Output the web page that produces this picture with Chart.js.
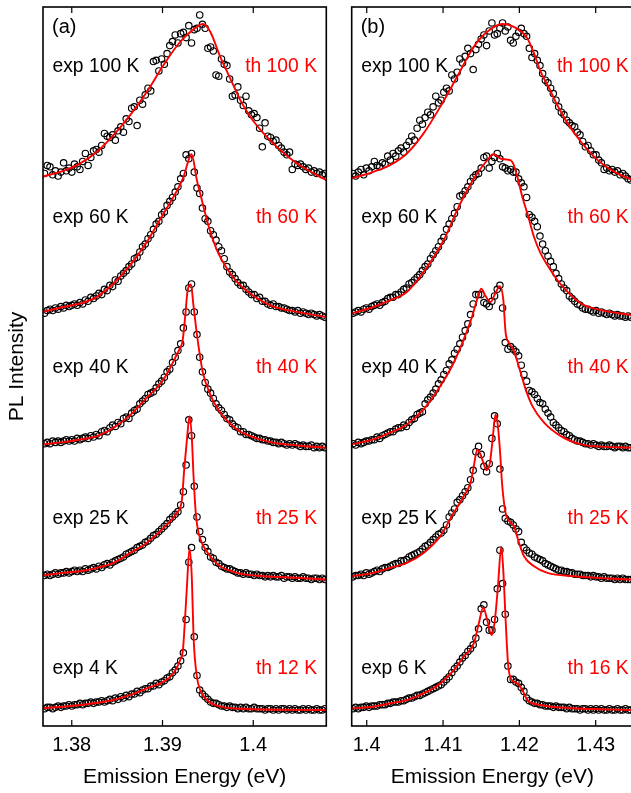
<!DOCTYPE html>
<html>
<head>
<meta charset="utf-8">
<script src="https://cdn.jsdelivr.net/npm/chart.js@4.4.1/dist/chart.umd.min.js"></script>
<style>
  html, body { margin: 0; padding: 0; background: #fff; overflow: hidden; }
  #wrap { position: relative; width: 631px; height: 793px; overflow: hidden; }
  canvas { position: absolute; top: 0; }
  #chartA { left: 0; }
  #chartB { left: 340px; }
</style>
</head>
<body>
<div id="wrap">
  <canvas id="chartA" width="335" height="793"></canvas>
  <canvas id="chartB" width="300" height="793"></canvas>
</div>
<script>
// energy grids of the measured spectra (eV)
const energyA = [
  1.3770,1.3773,1.3776,1.3779,1.3782,1.3785,1.3788,1.3791,1.3794,1.3797,
  1.3800,1.3803,1.3806,1.3809,1.3812,1.3815,1.3818,1.3821,1.3824,1.3827,
  1.3830,1.3833,1.3836,1.3839,1.3842,1.3845,1.3848,1.3851,1.3854,1.3857,
  1.3860,1.3863,1.3866,1.3869,1.3872,1.3875,1.3878,1.3881,1.3884,1.3887,
  1.3890,1.3893,1.3896,1.3899,1.3902,1.3905,1.3908,1.3911,1.3914,1.3917,
  1.3920,1.3923,1.3926,1.3929,1.3932,1.3935,1.3938,1.3941,1.3944,1.3947,
  1.3950,1.3953,1.3956,1.3959,1.3962,1.3965,1.3968,1.3971,1.3974,1.3977,
  1.3980,1.3983,1.3986,1.3989,1.3992,1.3995,1.3998,1.4001,1.4004,1.4007,
  1.4010,1.4013,1.4016,1.4019,1.4022,1.4025,1.4028,1.4031,1.4034,1.4037,
  1.4040,1.4043,1.4046,1.4049,1.4052,1.4055,1.4058,1.4061,1.4064,1.4067,
  1.4070,1.4073,1.4076,1.4079
];
const energyB = [
  1.39820,1.39855,1.39890,1.39925,1.39960,1.39995,1.40030,1.40065,1.40100,1.40135,
  1.40170,1.40205,1.40240,1.40275,1.40310,1.40345,1.40380,1.40415,1.40450,1.40485,
  1.40520,1.40555,1.40590,1.40625,1.40660,1.40695,1.40730,1.40765,1.40800,1.40835,
  1.40870,1.40905,1.40940,1.40975,1.41010,1.41045,1.41080,1.41115,1.41150,1.41185,
  1.41220,1.41255,1.41290,1.41325,1.41360,1.41395,1.41430,1.41465,1.41500,1.41535,
  1.41570,1.41605,1.41640,1.41675,1.41710,1.41745,1.41780,1.41815,1.41850,1.41885,
  1.41920,1.41955,1.41990,1.42025,1.42060,1.42095,1.42130,1.42165,1.42200,1.42235,
  1.42270,1.42305,1.42340,1.42375,1.42410,1.42445,1.42480,1.42515,1.42550,1.42585,
  1.42620,1.42655,1.42690,1.42725,1.42760,1.42795,1.42830,1.42865,1.42900,1.42935,
  1.42970,1.43005,1.43040,1.43075,1.43110,1.43145,1.43180,1.43215,1.43250,1.43285,
  1.43320,1.43355,1.43390,1.43425,1.43460
];

// vertical offset of each stacked spectrum (top to bottom)
const offsets = [4.10, 3.07, 2.09, 1.10, 0.12];

const expLabelsA = ['exp 100 K', 'exp 60 K', 'exp 40 K', 'exp 25 K', 'exp 4 K'];
const thLabelsA = ['th 100 K', 'th 60 K', 'th 40 K', 'th 25 K', 'th 12 K'];
const expLabelsB = ['exp 100 K', 'exp 60 K', 'exp 40 K', 'exp 25 K', 'exp 6 K'];
const thLabelsB = ['th 100 K', 'th 60 K', 'th 40 K', 'th 25 K', 'th 16 K'];

const ticksA = [1.38, 1.39, 1.40];
const ticksB = [1.40, 1.41, 1.42, 1.43];

// panel (a), measured PL intensity
const expA100 = [
  0.05,0.11,0.10,0.04,0.07,0.03,0.06,0.13,0.07,0.09,
  0.06,0.12,0.10,0.08,0.14,0.20,0.11,0.17,0.22,0.23,
  0.21,0.26,0.35,0.33,0.32,0.34,0.30,0.37,0.40,0.36,
  0.46,0.44,0.54,0.55,0.41,0.60,0.57,0.64,0.69,0.67,
  0.89,0.90,0.82,0.91,0.87,0.95,1.01,1.04,1.09,1.03,
  1.10,1.11,1.07,1.16,1.03,1.13,1.14,1.24,1.17,1.14,
  0.99,1.00,0.97,0.79,0.78,0.91,0.87,0.86,0.76,0.63,
  0.64,0.70,0.60,0.56,0.63,0.52,0.49,0.50,0.47,0.39,
  0.25,0.43,0.33,0.32,0.29,0.30,0.26,0.24,0.21,0.19,
  0.21,0.08,0.12,0.11,0.12,0.10,0.08,0.09,0.06,0.07,
  0.05,0.06,0.04,0.05
];
const expA60 = [
  0.03,0.05,0.06,0.05,0.07,0.06,0.08,0.07,0.09,0.08,
  0.09,0.10,0.09,0.11,0.10,0.13,0.12,0.15,0.14,0.16,
  0.18,0.17,0.21,0.20,0.24,0.23,0.28,0.27,0.31,0.33,
  0.35,0.38,0.40,0.44,0.45,0.49,0.53,0.55,0.59,0.62,
  0.66,0.70,0.72,0.77,0.79,0.84,0.87,0.90,0.94,0.98,
  1.04,1.08,1.22,1.19,1.23,1.09,0.97,0.93,0.82,0.74,
  0.72,0.65,0.62,0.58,0.53,0.50,0.44,0.38,0.34,0.32,
  0.29,0.26,0.24,0.24,0.21,0.19,0.17,0.17,0.14,0.15,
  0.12,0.12,0.10,0.09,0.10,0.08,0.08,0.07,0.07,0.06,
  0.05,0.05,0.04,0.05,0.03,0.04,0.03,0.02,0.03,0.02,
  0.01,0.02,0.01,0.00
];
const expA40 = [
  0.03,0.04,0.03,0.05,0.04,0.05,0.04,0.05,0.06,0.05,
  0.06,0.05,0.07,0.06,0.07,0.08,0.07,0.09,0.08,0.10,
  0.09,0.12,0.13,0.12,0.15,0.17,0.16,0.19,0.18,0.22,
  0.23,0.22,0.26,0.28,0.29,0.33,0.35,0.37,0.40,0.41,
  0.42,0.45,0.48,0.50,0.53,0.57,0.59,0.64,0.68,0.73,
  0.78,0.90,1.02,1.20,1.23,1.02,0.85,0.68,0.57,0.49,
  0.44,0.41,0.37,0.33,0.30,0.28,0.25,0.22,0.21,0.18,
  0.16,0.15,0.12,0.12,0.10,0.10,0.09,0.08,0.07,0.07,
  0.06,0.06,0.05,0.05,0.04,0.04,0.03,0.04,0.03,0.02,
  0.03,0.02,0.03,0.02,0.01,0.02,0.01,0.01,0.02,0.00,
  0.01,0.00,0.01,0.00
];
const expA25 = [
  0.03,0.04,0.03,0.04,0.05,0.04,0.05,0.05,0.06,0.05,
  0.06,0.07,0.06,0.07,0.06,0.08,0.07,0.08,0.09,0.08,
  0.10,0.09,0.11,0.12,0.11,0.13,0.14,0.15,0.16,0.17,
  0.19,0.20,0.21,0.22,0.24,0.25,0.26,0.28,0.29,0.31,
  0.33,0.34,0.36,0.38,0.40,0.42,0.45,0.47,0.49,0.51,
  0.56,0.66,0.86,1.20,1.08,0.70,0.47,0.36,0.30,0.24,
  0.21,0.17,0.16,0.13,0.12,0.10,0.09,0.08,0.08,0.07,
  0.06,0.05,0.05,0.04,0.05,0.04,0.04,0.03,0.04,0.03,
  0.03,0.02,0.03,0.02,0.03,0.02,0.02,0.03,0.01,0.02,
  0.02,0.01,0.02,0.01,0.01,0.02,0.01,0.01,0.00,0.01,
  0.01,0.00,0.01,0.00
];
const expA4 = [
  0.01,0.02,0.02,0.01,0.02,0.03,0.02,0.03,0.03,0.04,
  0.03,0.04,0.04,0.05,0.04,0.05,0.05,0.06,0.05,0.06,
  0.06,0.07,0.06,0.07,0.08,0.07,0.09,0.08,0.10,0.09,
  0.11,0.10,0.12,0.12,0.14,0.13,0.15,0.16,0.16,0.18,
  0.18,0.20,0.19,0.21,0.22,0.24,0.25,0.28,0.30,0.33,
  0.37,0.43,0.68,1.11,1.22,0.55,0.26,0.15,0.12,0.10,
  0.08,0.06,0.05,0.05,0.04,0.03,0.03,0.02,0.03,0.02,
  0.02,0.01,0.02,0.01,0.02,0.01,0.01,0.02,0.01,0.01,
  0.01,0.00,0.01,0.01,0.00,0.01,0.00,0.01,0.01,0.00,
  0.01,0.00,0.01,0.00,0.00,0.01,0.00,0.01,0.00,0.00,
  0.01,0.00,0.00,0.01
];

// panel (a), theory [energy, intensity]
const thA100 = [[1.37683,0.027],[1.37908,0.070],[1.38093,0.125],[1.38277,0.213],[1.38460,0.338],[1.38644,0.488],[1.38828,0.663],[1.39011,0.864],[1.39195,1.039],[1.39342,1.132],[1.39445,1.172],[1.39526,1.114],[1.39636,0.926],[1.39746,0.764],[1.39857,0.601],[1.39967,0.476],[1.40114,0.351],[1.40298,0.225],[1.40482,0.125],[1.40666,0.050],[1.40805,0.000]];
const thA60 = [[1.37683,0.040],[1.37908,0.077],[1.38093,0.103],[1.38277,0.153],[1.38460,0.253],[1.38644,0.391],[1.38828,0.566],[1.39011,0.779],[1.39121,0.904],[1.39232,1.054],[1.39287,1.179],[1.39320,1.224],[1.39379,1.029],[1.39434,0.879],[1.39490,0.728],[1.39545,0.603],[1.39617,0.478],[1.39710,0.366],[1.39820,0.265],[1.39967,0.178],[1.40187,0.090],[1.40482,0.040],[1.40805,0.002]];
const thA40 = [[1.37683,0.025],[1.37908,0.042],[1.38093,0.062],[1.38277,0.087],[1.38460,0.150],[1.38644,0.245],[1.38828,0.376],[1.38938,0.451],[1.39011,0.513],[1.39085,0.601],[1.39140,0.676],[1.39195,0.751],[1.39221,0.801],[1.39250,0.988],[1.39276,1.176],[1.39313,1.226],[1.39342,1.063],[1.39379,0.851],[1.39416,0.676],[1.39445,0.563],[1.39526,0.400],[1.39600,0.300],[1.39673,0.233],[1.39820,0.137],[1.39967,0.087],[1.40187,0.042],[1.40482,0.017],[1.40805,0.000]];
const thA25 = [[1.37683,0.032],[1.37908,0.050],[1.38093,0.062],[1.38277,0.088],[1.38460,0.125],[1.38644,0.200],[1.38828,0.276],[1.39011,0.388],[1.39158,0.501],[1.39214,0.601],[1.39239,0.826],[1.39269,1.051],[1.39298,1.226],[1.39324,1.051],[1.39342,0.776],[1.39368,0.488],[1.39397,0.351],[1.39452,0.250],[1.39526,0.175],[1.39636,0.100],[1.39820,0.050],[1.40114,0.025],[1.40482,0.013],[1.40805,0.000]];
const thA12 = [[1.37683,0.013],[1.38093,0.038],[1.38460,0.075],[1.38644,0.113],[1.38828,0.163],[1.39011,0.213],[1.39121,0.276],[1.39195,0.376],[1.39225,0.451],[1.39243,0.626],[1.39269,0.926],[1.39298,1.215],[1.39324,0.976],[1.39342,0.551],[1.39379,0.250],[1.39416,0.150],[1.39490,0.075],[1.39636,0.025],[1.39930,0.008],[1.40805,0.000]];

// panel (b), measured PL intensity
const expB100 = [
  0.05,0.03,0.06,0.08,0.04,0.09,0.07,0.10,0.14,0.11,
  0.10,0.13,0.12,0.18,0.15,0.20,0.18,0.22,0.24,0.21,
  0.26,0.29,0.33,0.30,0.39,0.45,0.42,0.47,0.51,0.49,
  0.55,0.63,0.58,0.60,0.66,0.69,0.67,0.79,0.76,0.81,
  0.91,0.88,0.93,0.99,0.95,0.83,0.98,1.02,1.06,1.09,
  1.01,1.12,1.18,1.09,1.10,1.14,1.18,1.12,1.15,1.05,
  1.03,1.08,1.11,1.14,1.10,1.08,0.99,0.92,0.95,0.90,
  0.86,0.80,0.75,0.73,0.69,0.65,0.60,0.55,0.51,0.49,
  0.45,0.43,0.41,0.40,0.36,0.34,0.29,0.25,0.26,0.22,
  0.19,0.19,0.15,0.13,0.08,0.09,0.07,0.08,0.06,0.07,
  0.04,0.05,0.03,0.01,0.00
];
const expB60 = [
  0.03,0.04,0.05,0.04,0.06,0.07,0.06,0.08,0.09,0.10,
  0.09,0.11,0.12,0.14,0.15,0.15,0.17,0.17,0.19,0.21,
  0.22,0.25,0.26,0.28,0.30,0.32,0.35,0.38,0.40,0.44,
  0.47,0.50,0.53,0.57,0.60,0.66,0.70,0.74,0.78,0.83,
  0.91,0.92,0.95,0.98,1.02,1.05,1.07,1.08,1.12,1.20,
  1.21,1.12,1.17,1.20,1.23,1.19,1.13,1.12,1.10,1.11,
  1.09,1.09,1.04,1.01,0.98,0.90,0.77,0.75,0.72,0.68,
  0.61,0.55,0.50,0.46,0.42,0.38,0.33,0.29,0.25,0.22,
  0.20,0.16,0.14,0.12,0.10,0.09,0.07,0.06,0.06,0.05,
  0.04,0.05,0.03,0.04,0.03,0.02,0.03,0.02,0.01,0.02,
  0.01,0.01,0.00,0.01,0.00
];
const expB40 = [
  0.03,0.02,0.04,0.03,0.04,0.05,0.05,0.06,0.06,0.08,
  0.07,0.09,0.10,0.11,0.12,0.12,0.14,0.15,0.15,0.17,
  0.16,0.19,0.21,0.22,0.25,0.26,0.27,0.33,0.36,0.38,
  0.41,0.44,0.48,0.51,0.55,0.58,0.63,0.66,0.71,0.74,
  0.78,0.83,0.88,0.93,1.00,1.08,1.15,1.15,1.15,1.09,
  1.08,1.06,1.10,1.14,1.19,1.22,1.05,0.79,0.74,0.76,
  0.74,0.72,0.69,0.62,0.55,0.50,0.43,0.42,0.40,0.37,
  0.34,0.33,0.29,0.26,0.23,0.19,0.17,0.15,0.13,0.12,
  0.10,0.09,0.07,0.06,0.05,0.05,0.04,0.03,0.03,0.02,
  0.03,0.02,0.01,0.02,0.01,0.01,0.02,0.01,0.00,0.01,
  0.01,0.00,0.01,0.00,0.00
];
const expB25 = [
  0.02,0.03,0.03,0.04,0.03,0.05,0.04,0.05,0.06,0.07,
  0.06,0.08,0.09,0.09,0.10,0.11,0.12,0.12,0.14,0.14,
  0.15,0.17,0.18,0.19,0.20,0.21,0.23,0.25,0.26,0.28,
  0.30,0.32,0.34,0.35,0.37,0.41,0.47,0.50,0.53,0.58,
  0.60,0.63,0.66,0.69,0.75,0.82,0.96,1.00,0.94,0.85,
  0.81,0.87,1.06,1.23,1.17,0.83,0.53,0.46,0.44,0.43,
  0.41,0.38,0.36,0.28,0.24,0.22,0.20,0.19,0.17,0.16,
  0.15,0.14,0.12,0.11,0.10,0.09,0.08,0.07,0.07,0.06,
  0.06,0.05,0.05,0.04,0.04,0.04,0.03,0.03,0.03,0.02,
  0.03,0.02,0.02,0.01,0.02,0.01,0.01,0.01,0.00,0.01,
  0.00,0.01,0.00,0.00,0.00
];
const expB6 = [
  0.01,0.02,0.01,0.02,0.02,0.03,0.02,0.03,0.03,0.03,
  0.04,0.04,0.04,0.05,0.05,0.06,0.06,0.06,0.07,0.07,
  0.08,0.09,0.09,0.10,0.11,0.11,0.12,0.13,0.14,0.15,
  0.16,0.17,0.18,0.19,0.21,0.23,0.25,0.28,0.31,0.33,
  0.36,0.39,0.41,0.44,0.46,0.49,0.54,0.61,0.76,0.79,
  0.66,0.60,0.60,0.68,0.91,1.20,0.95,0.72,0.33,0.23,
  0.23,0.21,0.20,0.17,0.14,0.09,0.07,0.06,0.05,0.05,
  0.04,0.04,0.03,0.03,0.03,0.02,0.03,0.02,0.02,0.02,
  0.01,0.02,0.01,0.01,0.01,0.00,0.01,0.01,0.00,0.01,
  0.00,0.01,0.00,0.01,0.00,0.00,0.01,0.00,0.00,0.01,
  0.00,0.00,0.01,0.00,0.00
];

// panel (b), theory [energy, intensity]
const thB100 = [[1.39803,0.013],[1.40087,0.062],[1.40307,0.113],[1.40526,0.200],[1.40745,0.351],[1.40964,0.551],[1.41184,0.776],[1.41403,1.001],[1.41579,1.114],[1.41776,1.172],[1.41929,1.151],[1.42105,1.064],[1.42192,0.951],[1.42280,0.813],[1.42390,0.690],[1.42500,0.560],[1.42632,0.426],[1.42807,0.288],[1.43026,0.150],[1.43245,0.062],[1.43490,0.000]];
const thB60 = [[1.39803,0.028],[1.40087,0.077],[1.40307,0.128],[1.40526,0.190],[1.40745,0.340],[1.41008,0.578],[1.41184,0.804],[1.41316,0.954],[1.41447,1.079],[1.41579,1.179],[1.41658,1.224],[1.41754,1.192],[1.41842,1.184],[1.41908,1.166],[1.41974,1.054],[1.42039,0.903],[1.42105,0.779],[1.42192,0.603],[1.42280,0.478],[1.42368,0.391],[1.42500,0.278],[1.42632,0.190],[1.42807,0.103],[1.43070,0.053],[1.43490,0.015]];
const thB40 = [[1.39803,0.025],[1.40087,0.062],[1.40307,0.113],[1.40526,0.175],[1.40745,0.288],[1.40964,0.463],[1.41140,0.638],[1.41271,0.813],[1.41382,0.988],[1.41447,1.114],[1.41500,1.194],[1.41557,1.139],[1.41622,1.094],[1.41688,1.164],[1.41745,1.214],[1.41789,1.114],[1.41820,0.864],[1.41863,0.789],[1.41929,0.726],[1.42017,0.563],[1.42083,0.438],[1.42171,0.312],[1.42324,0.188],[1.42543,0.087],[1.42807,0.025],[1.43158,0.006],[1.43490,0.000]];
const thB25 = [[1.39803,0.025],[1.40087,0.050],[1.40307,0.088],[1.40526,0.125],[1.40745,0.200],[1.40964,0.326],[1.41140,0.501],[1.41271,0.626],[1.41359,0.726],[1.41403,0.851],[1.41447,0.976],[1.41491,0.939],[1.41535,0.864],[1.41570,0.821],[1.41614,0.876],[1.41645,1.027],[1.41688,1.239],[1.41719,1.151],[1.41745,0.976],[1.41776,0.701],[1.41820,0.501],[1.41886,0.426],[1.41929,0.400],[1.41995,0.276],[1.42061,0.175],[1.42192,0.100],[1.42368,0.050],[1.42718,0.025],[1.43158,0.008],[1.43490,0.000]];
const thB16 = [[1.39803,0.013],[1.40087,0.025],[1.40307,0.050],[1.40526,0.075],[1.40745,0.125],[1.40964,0.200],[1.41140,0.300],[1.41271,0.400],[1.41403,0.501],[1.41469,0.651],[1.41526,0.771],[1.41579,0.676],[1.41636,0.563],[1.41679,0.676],[1.41719,0.926],[1.41763,1.226],[1.41789,1.051],[1.41820,0.676],[1.41851,0.351],[1.41886,0.238],[1.41974,0.200],[1.42039,0.150],[1.42105,0.075],[1.42280,0.038],[1.42718,0.013],[1.43490,0.000]];

const RED = '#ff0000';
const FONT = '"Liberation Sans", Arial, Helvetica, sans-serif';
Chart.defaults.font.family = FONT;
Chart.defaults.color = '#000';

// build scatter + line datasets for one panel
function buildDatasets(energy, expRows, thRows) {
  const sets = [];
  expRows.forEach((row, i) => {
    sets.push({
      data: energy.map((e, k) => ({ x: e, y: offsets[i] + row[k] })),
      pointStyle: 'circle',
      pointRadius: 3.2,
      pointBorderWidth: 1.15,
      pointBorderColor: '#000',
      pointBackgroundColor: 'rgba(0,0,0,0)',
      showLine: false,
      order: 1
    });
    sets.push({
      data: thRows[i].map(p => ({ x: p[0], y: offsets[i] + p[1] })),
      showLine: true,
      borderColor: RED,
      borderWidth: 1.9,
      pointRadius: 0,
      cubicInterpolationMode: 'monotone',
      order: 0
    });
  });
  return sets;
}

// frame, inward tick marks and the text labels
const framePlugin = {
  id: 'frame',
  afterDatasetsDraw(chart, args, opts) {
    const { ctx, chartArea: a } = chart;
    const xs = chart.scales.x;
    ctx.save();
    ctx.strokeStyle = '#000';
    ctx.lineWidth = 1.6;
    ctx.strokeRect(a.left, a.top, a.right - a.left, a.bottom - a.top);
    ctx.lineWidth = 1.2;
    xs.ticks.forEach(t => {
      const px = xs.getPixelForValue(t.value);
      ctx.beginPath();
      ctx.moveTo(px, a.bottom);
      ctx.lineTo(px, a.bottom - 6);
      ctx.moveTo(px, a.top);
      ctx.lineTo(px, a.top + 6);
      ctx.stroke();
    });
    ctx.textBaseline = 'middle';
    ctx.font = '20px ' + FONT;
    ctx.fillStyle = '#000';
    ctx.textAlign = 'left';
    ctx.fillText(opts.panel, a.left + 9, a.top + 20);
    ctx.font = '19.3px ' + FONT;
    opts.expLabels.forEach((s, i) => {
      const y = a.top + 60 + i * 150.5;
      ctx.fillStyle = '#000';
      ctx.textAlign = 'left';
      ctx.fillText(s, a.left + 9.5, y);
      ctx.fillStyle = RED;
      ctx.textAlign = 'right';
      ctx.fillText(opts.thLabels[i], a.left + opts.thRight, y);
    });
    ctx.restore();
  }
};

function makeChart(id, cfg) {
  return new Chart(document.getElementById(id), {
    type: 'scatter',
    data: { datasets: buildDatasets(cfg.energy, cfg.exp, cfg.th) },
    options: {
      responsive: false,
      animation: false,
      devicePixelRatio: 1,
      layout: { padding: cfg.padding },
      plugins: {
        legend: { display: false },
        tooltip: { enabled: false },
        frame: { panel: cfg.panel, expLabels: cfg.expLabels, thLabels: cfg.thLabels, thRight: cfg.thRight }
      },
      scales: {
        x: {
          type: 'linear',
          min: cfg.min,
          max: cfg.max,
          afterBuildTicks: s => { s.ticks = cfg.ticks.map(v => ({ value: v })); },
          ticks: {
            includeBounds: false,
            padding: 7,
            font: { size: 20 },
            color: '#000',
            maxRotation: 0,
            callback: v => String(Number(v.toFixed(2)))
          },
          grid: { display: false, drawTicks: false },
          border: { display: false },
          title: {
            display: true,
            text: 'Emission Energy (eV)',
            font: { size: 21 },
            color: '#000',
            padding: { top: 4, bottom: 3 }
          },
          afterFit: s => { s.height = 67; }
        },
        y: {
          min: 0,
          max: 5.4,
          display: cfg.showY,
          ticks: { display: false },
          grid: { display: false, drawTicks: false },
          border: { display: false },
          title: {
            display: true,
            text: 'PL Intensity',
            font: { size: 21 },
            color: '#000',
            padding: { top: 5, bottom: 0 }
          },
          afterFit: s => { s.width = cfg.showY ? 43 : 0; }
        }
      }
    },
    plugins: [framePlugin]
  });
}

makeChart('chartA', {
  energy: energyA,
  exp: [expA100, expA60, expA40, expA25, expA4],
  th: [thA100, thA60, thA40, thA25, thA12],
  min: 1.37683, max: 1.40805,
  ticks: ticksA,
  panel: '(a)', expLabels: expLabelsA, thLabels: thLabelsA, thRight: 274,
  showY: true,
  padding: { top: 7, right: 8.7, left: 0, bottom: 0 }
});

makeChart('chartB', {
  energy: energyB,
  exp: [expB100, expB60, expB40, expB25, expB6],
  th: [thB100, thB60, thB40, thB25, thB16],
  min: 1.39803, max: 1.43489,
  ticks: ticksB,
  panel: '(b)', expLabels: expLabelsB, thLabels: thLabelsB, thRight: 277,
  showY: false,
  padding: { top: 7, right: 7, left: 11.7, bottom: 0 }
});
</script>
</body>
</html>
